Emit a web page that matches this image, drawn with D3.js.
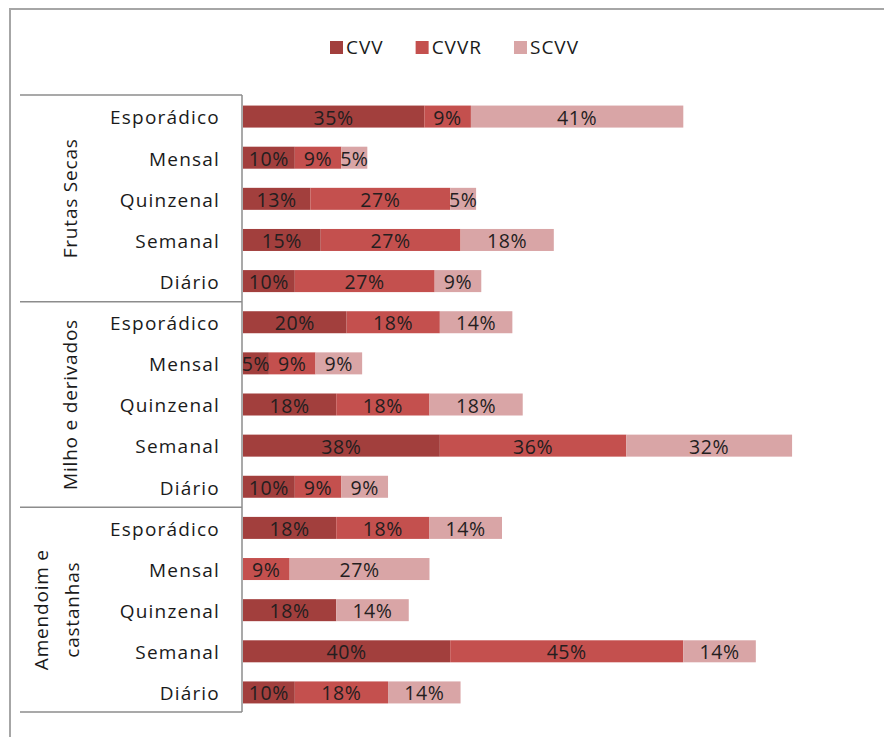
<!DOCTYPE html>
<html>
<head>
<meta charset="utf-8">
<script src="https://cdn.jsdelivr.net/npm/d3@7"></script>
<style>
  body { margin: 0; background: #fff; }
  svg text { font-family: "Open Sans", "Noto Sans", sans-serif; }
</style>
</head>
<body>
<div id="graph"></div>
<script>
let width = 884;
let height = 737;

// data (percent)
const groups = ["Frutas Secas", "Milho e derivados", "Amendoim e castanhas"];
const frequencies = ["Esporádico", "Mensal", "Quinzenal", "Semanal", "Diário"];
const seriesNames = ["CVV", "CVVR", "SCVV"];
const cvv  = [35, 10, 13, 15, 10,  20, 5, 18, 38, 10,  18, 0, 18, 40, 10];
const cvvr = [9, 9, 27, 27, 27,    18, 9, 18, 36, 9,   18, 9, 0, 45, 18];
const scvv = [41, 5, 5, 18, 9,     14, 9, 18, 32, 9,   14, 27, 14, 14, 14];
const colors = ["#a23f3d", "#c4504e", "#d9a5a6"];

let rows = [];
groups.forEach((g, gi) => {
    frequencies.forEach((f, fi) => {
        let i = gi * frequencies.length + fi;
        rows.push({ id: g + "|" + f, group: g, freq: f, values: [cvv[i], cvvr[i], scvv[i]] });
    });
});

let svg = d3.select("#graph")
    .append("svg")
    .attr("width", width)
    .attr("height", height);

// outer chart frame (cut off at right and bottom like the source)
svg.append("rect")
    .attr("x", 10).attr("y", 9)
    .attr("width", 900).attr("height", 800)
    .attr("fill", "none")
    .attr("stroke", "#a6a6a6")
    .attr("stroke-width", 2);

let plotTop = 95, plotBottom = 712, axisX = 242;

let yScale = d3.scaleBand()
    .domain(rows.map(r => r.id))
    .range([plotTop + 1, plotBottom + 1])
    .paddingInner(0.465)
    .paddingOuter(0.2325);

let xScale = d3.scaleLinear()
    .domain([0, 106])
    .range([axisX + 1, axisX + 1 + 106 * 5.18]);

// stacked bars
let stackData = rows.map(r => {
    let o = { id: r.id };
    seriesNames.forEach((s, k) => o[s] = r.values[k]);
    return o;
});
let stacked = d3.stack().keys(seriesNames)(stackData);

let layers = svg.append("g").selectAll("g")
    .data(stacked)
    .enter().append("g")
    .attr("fill", (d, i) => colors[i]);

layers.selectAll("rect")
    .data(d => d)
    .enter().append("rect")
    .attr("x", d => xScale(d[0]))
    .attr("y", d => yScale(d.data.id))
    .attr("width", d => xScale(d[1]) - xScale(d[0]))
    .attr("height", yScale.bandwidth());

layers.selectAll("text")
    .data(d => d.filter(v => v[1] - v[0] > 0))
    .enter().append("text")
    .attr("x", d => (xScale(d[0]) + xScale(d[1])) / 2)
    .attr("y", d => yScale(d.data.id) + yScale.bandwidth() / 2 + 1)
    .attr("dy", "0.36em")
    .attr("text-anchor", "middle")
    .attr("font-size", "19.5px")
    .attr("letter-spacing", "0.6px")
    .attr("fill", "#241e1f")
    .text(d => (d[1] - d[0]) + "%");

// category labels
svg.append("g").selectAll("text")
    .data(rows)
    .enter().append("text")
    .attr("x", 220)
    .attr("y", d => yScale(d.id) + yScale.bandwidth() / 2 + 1)
    .attr("dy", "0.36em")
    .attr("text-anchor", "end")
    .attr("font-size", "19px")
    .attr("letter-spacing", "1.2px")
    .attr("fill", "#1a1a1a")
    .text(d => d.freq);

// group boxes
let lineColor = "#8c8c8c";
let bounds = groups.map((g, gi) => yScale(rows[gi * 5].id) - yScale.step() * yScale.paddingInner() / 2);
bounds.push(plotBottom);
bounds[0] = plotTop;

svg.append("line")
    .attr("x1", axisX).attr("x2", axisX)
    .attr("y1", plotTop).attr("y2", plotBottom)
    .attr("stroke", lineColor).attr("stroke-width", 1.5);

svg.append("g").selectAll("line")
    .data(bounds)
    .enter().append("line")
    .attr("x1", 20).attr("x2", axisX)
    .attr("y1", d => d).attr("y2", d => d)
    .attr("stroke", lineColor).attr("stroke-width", 1.5);

// group labels, rotated
let groupLines = [["Frutas Secas"], ["Milho e derivados"], ["Amendoim e", "castanhas"]];
groupLines.forEach((lines, gi) => {
    let cy = (bounds[gi] + bounds[gi + 1]) / 2;
    let xs = lines.length === 1 ? [70] : [41, 72];
    lines.forEach((t, li) => {
        svg.append("text")
            .attr("transform", "translate(" + xs[li] + "," + cy + ") rotate(-90)")
            .attr("dy", "0.36em")
            .attr("text-anchor", "middle")
            .attr("font-size", "19px")
            .attr("letter-spacing", "0.8px")
            .attr("fill", "#1a1a1a")
            .text(t);
    });
});

// legend
let legend = svg.append("g").attr("transform", "translate(330,47)");
let lx = 0;
seriesNames.forEach((s, i) => {
    let item = legend.append("g").attr("transform", "translate(" + lx + ",0)");
    item.append("rect")
        .attr("x", 0).attr("y", -6)
        .attr("width", 13).attr("height", 13)
        .attr("fill", colors[i]);
    let t = item.append("text")
        .attr("x", 16)
        .attr("dy", "0.36em")
        .attr("font-size", "19px")
        .attr("letter-spacing", "1px")
        .attr("fill", "#1a1a1a")
        .text(s);
    lx += 16 + t.node().getComputedTextLength() + 32;
});
</script>
</body>
</html>
